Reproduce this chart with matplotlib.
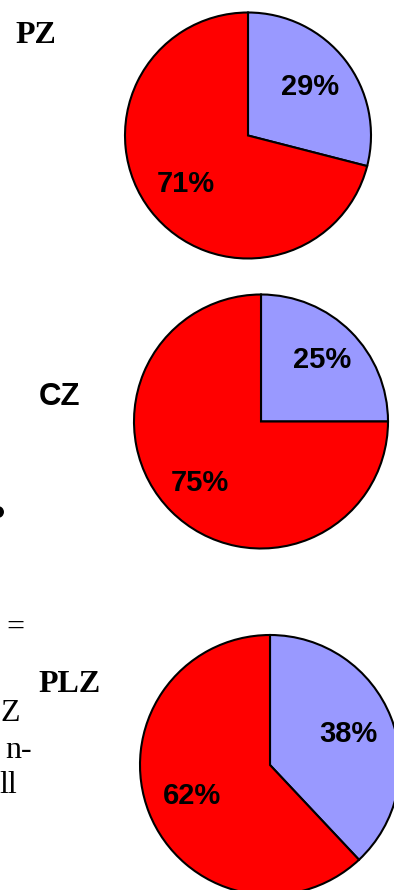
import matplotlib
matplotlib.use("Agg")
import matplotlib.pyplot as plt
from matplotlib.patches import Ellipse

# ---- data -------------------------------------------------------------
groups = ["PZ", "CZ", "PLZ"]
blue_share = [29, 25, 38]
red_share = [71, 75, 62]

# ---- page geometry (pixels) --------------------------------------------
W, H, DPI = 394, 890, 100
pie_centers = [(248, 135.5), (261, 421.5), (270, 765)]
pie_radii = [123, 127, 130]
pct_dist = [0.64, 0.68, 0.645]
LIM = 1.03

SLICE_COLORS = ["#9999FF", "#FF0000"]

fig = plt.figure(figsize=(W / DPI, H / DPI), dpi=DPI)
fig.patch.set_facecolor("white")


def px(x, y):
    """pixel position (origin top-left) -> figure fraction"""
    return x / W, 1 - y / H


for i, name in enumerate(groups):
    cx, cy = pie_centers[i]
    half = pie_radii[i] * LIM
    ax = fig.add_axes([(cx - half) / W, 1 - (cy + half) / H,
                       2 * half / W, 2 * half / H])
    ax.pie([blue_share[i], red_share[i]],
           colors=SLICE_COLORS,
           startangle=90, counterclock=False,
           autopct=lambda p: f"{p:.0f}%",
           pctdistance=pct_dist[i],
           wedgeprops=dict(edgecolor="black", linewidth=1.5),
           textprops=dict(family="Liberation Sans", weight="bold",
                          size=21, color="black"))
    ax.set_xlim(-LIM, LIM)
    ax.set_ylim(-LIM, LIM)
    ax.set_aspect("equal")
    ax.axis("off")

# ---- group captions ----------------------------------------------------
serif_bold = dict(family="Liberation Serif", weight="bold", size=23,
                  va="baseline", ha="left", color="black")
fig.text(*px(15, 43), groups[0], **serif_bold)
fig.text(*px(38.5, 405), groups[1], family="Liberation Sans", weight="bold",
         size=22.5, va="baseline", ha="left", color="black")
fig.text(*px(38, 692), groups[2], **serif_bold)

# ---- running text at the left margin -----------------------------------
body = dict(family="Liberation Serif", size=23, va="baseline", ha="left",
            color="black")
fig.text(*px(6.5, 636), "=", **body)
fig.text(*px(0, 721), "Z", **body)
fig.text(*px(5, 758), "n-", **body)
fig.text(*px(-0.5, 793), "ll", **body)

# bullet cut by the left margin
fig.add_artist(Ellipse(px(-2, 512), 10.5 / W, 10.5 / H,
                       transform=fig.transFigure, color="black"))

fig.savefig("out.png", dpi=DPI)
